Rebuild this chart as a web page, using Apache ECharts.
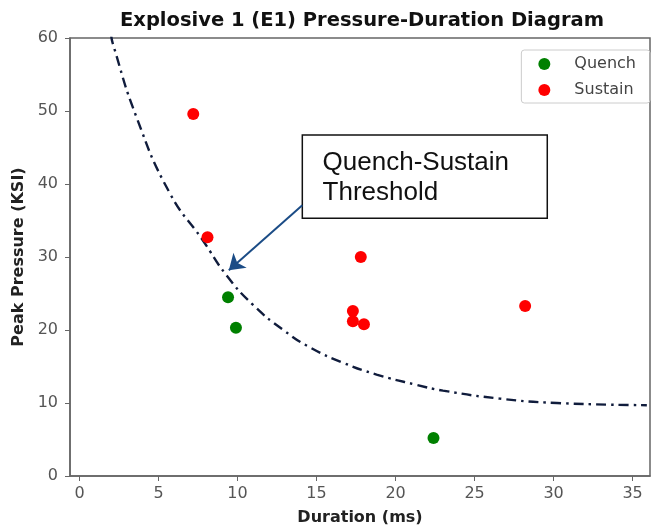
<!DOCTYPE html>
<html lang="en" style="height: 100%">
<head>
  <meta charset="utf-8" />
</head>
<body style="height: 100%; margin: 0; background: #fff">
  <div id="container" style="width: 656px; height: 526px"></div>
  <script src="https://cdn.jsdelivr.net/npm/echarts@6.0.0/dist/echarts.min.js"></script>
  <script>
    // [duration ms, peak pressure ksi]
    var quench = [[9.4, 24.5], [9.9, 20.3], [22.4, 5.2]];
    var sustain = [[7.2, 49.6], [8.1, 32.7], [17.8, 30.0], [17.3, 22.6],
                   [17.3, 21.2], [18.0, 20.8], [28.2, 23.3]];
    // threshold curve
    var threshold = [[2.0, 60.5], [2.1, 59.3], [3.6, 49.2], [5.7, 38.8], [7.8, 32.3],
                     [9.3, 27.5], [11.0, 23.4], [12.9, 20.0], [14.6, 17.6], [16.7, 15.5],
                     [18.8, 13.9], [21.3, 12.5], [23.0, 11.7], [26.6, 10.6], [30.2, 10.0],
                     [35.9, 9.7]];
    var xTicks = [0, 5, 10, 15, 20, 25, 30, 35];
    var arrowFrom = [14.1, 37.1];
    var arrowTo = [9.45, 28.2];
    var noteBox = [[14.1, 46.7], [29.6, 35.3]];

    var font = "DejaVu Sans";
    var chart = echarts.init(document.getElementById("container"), null, { renderer: "canvas" });

    var option = {
      animation: false,
      title: {
        text: "Explosive 1 (E1) Pressure-Duration Diagram",
        left: 357, top: 6, textAlign: "center",
        textStyle: { fontFamily: font, fontWeight: "bold", fontSize: 19.5, color: "#111" }
      },
      grid: {
        left: 70, right: 6, top: 38, bottom: 50,
        outerBoundsMode: "none", containLabel: false,
        show: true, borderColor: "#666", borderWidth: 1.5
      },
      legend: {
        data: ["Quench", "Sustain"],
        orient: "vertical", right: 6, top: 50,
        icon: "circle", itemWidth: 12, itemHeight: 12, itemGap: 10,
        padding: [6, 14, 5, 17],
        borderColor: "#ccc", borderWidth: 1, borderRadius: 3,
        textStyle: { fontFamily: font, fontSize: 16, color: "#444", padding: [0, 0, 0, 19] }
      },
      xAxis: {
        type: "value", min: -0.6, max: 36.1,
        name: "Duration (ms)", nameLocation: "middle", nameGap: 34,
        nameTextStyle: { fontFamily: font, fontWeight: "bold", fontSize: 16, color: "#222" },
        axisLine: { onZero: false, lineStyle: { color: "#666", width: 1.5 } },
        axisTick: { show: true, length: 5, customValues: xTicks, lineStyle: { color: "#666" } },
        axisLabel: { customValues: xTicks, fontFamily: font, fontSize: 16, color: "#555", margin: 10 },
        splitLine: { show: false }
      },
      yAxis: {
        type: "value", min: 0, max: 60, interval: 10,
        name: "Peak Pressure (KSI)", nameLocation: "middle", nameGap: 43,
        nameTextStyle: { fontFamily: font, fontWeight: "bold", fontSize: 16, color: "#222" },
        axisLine: { show: true, onZero: false, lineStyle: { color: "#666", width: 1.5 } },
        axisTick: { show: true, length: 5, lineStyle: { color: "#666" } },
        axisLabel: { fontFamily: font, fontSize: 16, color: "#555", margin: 12 },
        splitLine: { show: false }
      },
      series: [
        {
          name: "Threshold", type: "line", data: threshold, smooth: 0.5,
          showSymbol: false, clip: true, z: 2,
          lineStyle: { color: "#101c3c", width: 2.4, type: [10, 5, 2.5, 5] },
          markLine: {
            silent: true, symbol: ["none", "arrow"], symbolSize: 15,
            lineStyle: { color: "#1b4c86", width: 2, type: "solid" },
            label: { show: false },
            data: [[{ coord: arrowFrom }, { coord: arrowTo }]]
          },
          markArea: {
            silent: true,
            itemStyle: { color: "#fff", borderColor: "#111", borderWidth: 1.5 },
            label: {
              show: true, position: [21, 13], align: "left", verticalAlign: "top",
              formatter: "Quench-Sustain\nThreshold",
              fontFamily: "Liberation Sans", fontSize: 26, lineHeight: 30, color: "#111"
            },
            data: [[{ coord: noteBox[0] }, { coord: noteBox[1] }]]
          }
        },
        {
          name: "Quench", type: "scatter", data: quench, symbolSize: 12, z: 3,
          itemStyle: { color: "#008000", opacity: 1 }
        },
        {
          name: "Sustain", type: "scatter", data: sustain, symbolSize: 12, z: 3,
          itemStyle: { color: "#ff0000", opacity: 1 }
        }
      ]
    };

    chart.setOption(option);
    window.addEventListener("resize", chart.resize);
  </script>
</body>
</html>
